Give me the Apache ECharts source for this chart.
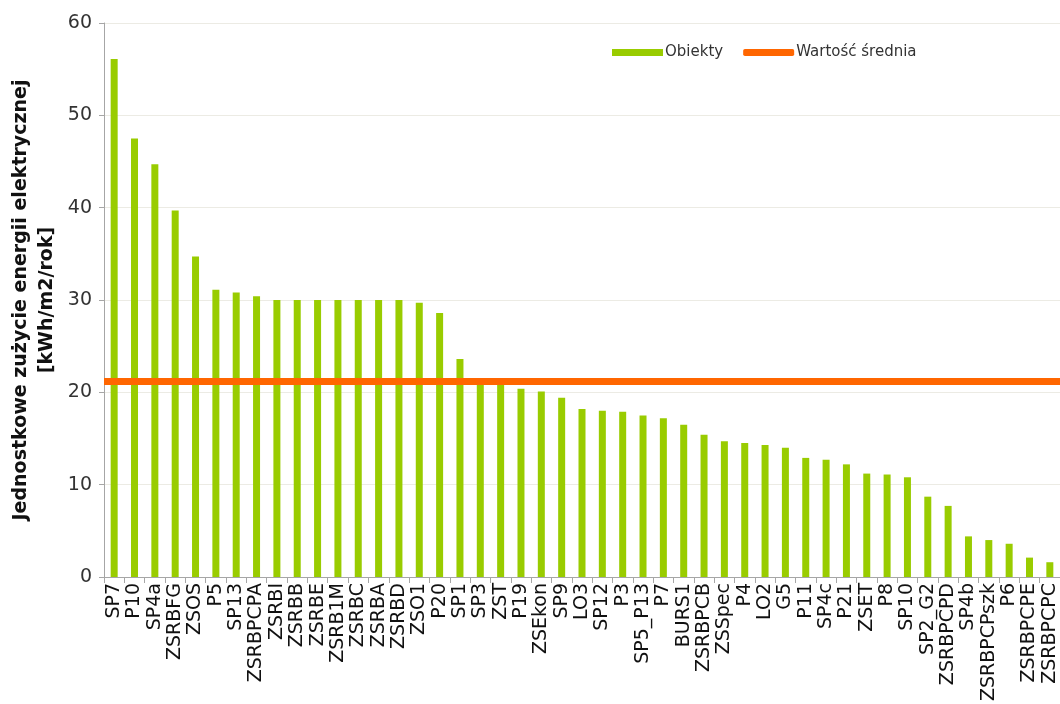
<!DOCTYPE html>
<html>
<head>
<meta charset="utf-8">
<script src="https://cdn.jsdelivr.net/npm/echarts@6/dist/echarts.min.js"></script>
<style>html,body{margin:0;padding:0;background:#fff}#c{width:1060px;height:704px}</style>
</head>
<body>
<div id="c"></div>
<script>
const categories = ['SP7','P10','SP4a','ZSRBFG','ZSOS','P5','SP13','ZSRBPCPA','ZSRBI','ZSRBB','ZSRBE','ZSRB1M','ZSRBC','ZSRBA','ZSRBD','ZSO1','P20','SP1','SP3','ZST','P19','ZSEkon','SP9','LO3','SP12','P3','SP5_P13','P7','BURS1','ZSRBPCB','ZSSpec','P4','LO2','G5','P11','SP4c','P21','ZSET','P8','SP10','SP2_G2','ZSRBPCPD','SP4b','ZSRBPCPszk','P6','ZSRBPCPE','ZSRBPCPC'];
const obiekty = [56.1,47.5,44.7,39.7,34.7,31.1,30.8,30.4,30.0,30.0,30.0,30.0,30.0,30.0,30.0,29.7,28.6,23.6,21.0,21.0,20.4,20.1,19.4,18.2,18.0,17.9,17.5,17.2,16.5,15.4,14.7,14.5,14.3,14.0,12.9,12.7,12.2,11.2,11.1,10.8,8.7,7.7,4.4,4.0,3.6,2.1,1.6];
const meanValue = 21.2;
const yTicks = {min: 0, max: 60, interval: 10};
const seriesNames = ['Obiekty', 'Wartość średnia'];
const yAxisName = 'Jednostkowe zużycie energii elektrycznej\n[kWh/m2/rok]';

const chart = echarts.init(document.getElementById('c'), null, {renderer: 'canvas'});
const FONT = 'DejaVu Sans';
chart.setOption({
  animation: false,
  backgroundColor: '#ffffff',
  textStyle: {fontFamily: FONT},
  grid: {left: 104, right: 0, top: 23, bottom: 127, containLabel: false, outerBoundsMode: 'none'},
  legend: {
    left: 607, top: 40,
    itemWidth: 51, itemHeight: 7, itemGap: 20,
    textStyle: {fontFamily: FONT, fontSize: 15, color: '#333', padding: [0, 0, 0, -3]},
    data: [{name: seriesNames[0], icon: 'rect'}, {name: seriesNames[1], icon: 'roundRect'}]
  },
  xAxis: {
    type: 'category',
    data: categories,
    boundaryGap: true,
    axisLine: {lineStyle: {color: '#a6a6a6', width: 1}},
    axisTick: {show: true, length: 6, lineStyle: {color: '#a6a6a6'}},
    axisLabel: {rotate: 90, interval: 0, fontFamily: FONT, fontSize: 19, color: '#111', margin: 6}
  },
  yAxis: {
    type: 'value',
    min: yTicks.min, max: yTicks.max, interval: yTicks.interval,
    name: yAxisName,
    nameLocation: 'middle',
    nameGap: 44,
    nameMoveOverlap: false,
    nameRotate: 90,
    nameTextStyle: {fontFamily: FONT, fontSize: 19, fontWeight: 'bold', color: '#111', lineHeight: 26},
    axisLine: {show: true, lineStyle: {color: '#a6a6a6', width: 1}},
    axisTick: {show: true, length: 5, lineStyle: {color: '#a6a6a6'}},
    axisLabel: {fontFamily: FONT, fontSize: 19, color: '#333', margin: 12},
    splitLine: {show: true, lineStyle: {color: '#ecebe4', width: 1}}
  },
  series: [
    {
      name: seriesNames[0],
      type: 'bar',
      data: obiekty,
      barWidth: 7,
      itemStyle: {color: '#99cc00'},
      z: 2
    },
    {
      name: seriesNames[1],
      type: 'line',
      data: [],
      symbol: 'none',
      color: '#ff6600',
      itemStyle: {color: '#ff6600'},
      lineStyle: {color: '#ff6600', width: 5},
      z: 3,
      markLine: {
        silent: true,
        symbol: ['none', 'none'],
        label: {show: false},
        lineStyle: {color: '#ff6600', width: 7, type: 'solid'},
        data: [{yAxis: meanValue}]
      }
    }
  ]
});
</script>
</body>
</html>
